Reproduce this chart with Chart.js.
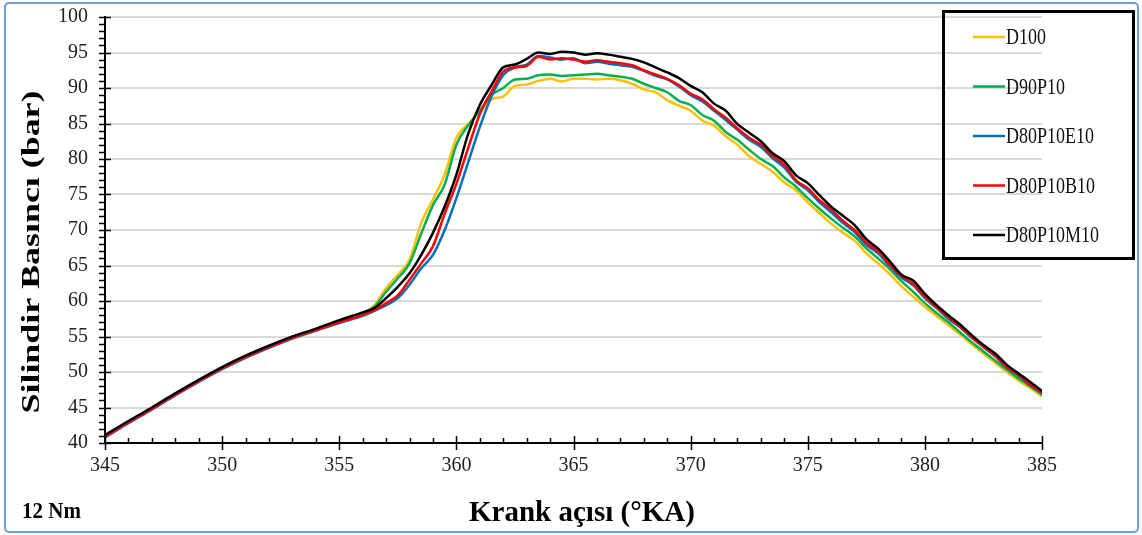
<!DOCTYPE html>
<html>
<head>
<meta charset="utf-8">
<script src="https://cdn.jsdelivr.net/npm/chart.js@4"></script>
<style>
  html, body { margin: 0; padding: 0; background: #fff; }
  canvas { display: block; }
</style>
</head>
<body>
<canvas id="chart" width="1142" height="535"></canvas>
<script>
// crank angle (°KA)
var angles = [345, 346, 347, 348, 349, 350, 351, 352, 353, 354, 355, 356,
  356.5, 357, 357.5, 358, 358.5, 359, 359.5, 360, 360.5, 361, 361.5, 362, 362.5, 363, 363.5, 364, 364.5, 365,
  365.5, 366, 366.5, 367, 367.5, 368, 368.5, 369, 369.5, 370, 370.5, 371, 371.5, 372, 372.5, 373, 373.5, 374,
  374.5, 375, 375.5, 376, 376.5, 377, 377.5, 378, 378.5, 379, 379.5, 380, 380.5, 381, 381.5, 382, 382.5, 383,
  383.5, 384, 384.5, 385];

var seriesNames = ['D100', 'D90P10', 'D80P10E10', 'D80P10B10', 'D80P10M10'];
var seriesColors = ['#FFC000', '#00B050', '#0070C0', '#FF0000', '#000000'];

// cylinder pressure (bar)
var d100 = [40.9, 42.9, 44.8, 46.8, 48.7, 50.5, 52.1, 53.5, 54.8, 55.9, 57.1, 58.2,
  59.4, 61.8, 63.7, 65.8, 71.0, 74.3, 77.8, 83.0, 84.9, 86.6, 88.4, 88.8, 90.3, 90.5, 91.0, 91.3, 90.9, 91.3,
  91.3, 91.2, 91.3, 91.1, 90.6, 89.8, 89.4, 88.3, 87.5, 86.8, 85.4, 84.7, 83.2, 82.0, 80.4, 79.3, 78.2, 76.7,
  75.6, 73.9, 72.4, 70.9, 69.6, 68.5, 66.7, 65.3, 63.8, 62.1, 60.6, 59.2, 57.9, 56.6, 55.3, 53.9, 52.6, 51.3,
  50.0, 48.8, 47.7, 46.6];
var d90p10 = [41.0, 43.0, 44.9, 46.9, 48.8, 50.6, 52.2, 53.6, 54.9, 56.0, 57.2, 58.3,
  59.2, 61.3, 63.2, 65.3, 69.5, 73.5, 76.4, 82.0, 84.7, 86.8, 89.0, 90.0, 91.2, 91.3, 91.8, 91.9, 91.7, 91.8,
  91.9, 92.0, 91.8, 91.6, 91.3, 90.6, 90.0, 89.4, 88.2, 87.6, 86.2, 85.4, 83.8, 82.7, 81.3, 80.0, 79.0, 77.4,
  76.1, 74.5, 73.0, 71.6, 70.3, 69.1, 67.4, 66.0, 64.5, 62.8, 61.3, 59.7, 58.3, 57.0, 55.6, 54.2, 52.9, 51.6,
  50.3, 49.1, 48.0, 46.8];
var d80p10e10 = [40.8, 42.8, 44.7, 46.7, 48.6, 50.4, 52.0, 53.4, 54.7, 55.8, 56.9, 57.9,
  58.6, 59.4, 60.4, 62.3, 64.6, 66.5, 70.0, 74.5, 79.5, 84.5, 88.8, 91.8, 92.9, 93.3, 94.5, 94.3, 94.0, 94.2,
  93.5, 93.7, 93.4, 93.2, 93.0, 92.4, 91.7, 91.2, 90.2, 89.0, 88.1, 86.8, 85.5, 84.1, 82.7, 81.7, 80.1, 78.8,
  76.8, 75.6, 73.9, 72.5, 71.0, 69.7, 67.9, 66.7, 64.9, 63.3, 62.2, 60.4, 59.0, 57.5, 56.3, 54.8, 53.5, 52.2,
  50.6, 49.5, 48.1, 47.0];
var d80p10b10 = [40.9, 42.9, 44.8, 46.8, 48.7, 50.5, 52.1, 53.5, 54.8, 55.9, 57.0, 58.0,
  58.7, 59.7, 60.8, 63.0, 65.3, 67.7, 72.3, 76.5, 81.5, 86.3, 89.5, 92.3, 92.9, 93.1, 94.4, 94.0, 94.2, 94.0,
  93.7, 93.9, 93.7, 93.5, 93.2, 92.5, 91.9, 91.3, 90.4, 89.2, 88.4, 87.0, 85.8, 84.3, 83.0, 82.0, 80.4, 79.2,
  77.0, 75.9, 74.2, 72.9, 71.3, 70.0, 68.2, 67.0, 65.1, 63.5, 62.4, 60.6, 59.1, 57.7, 56.4, 54.9, 53.6, 52.3,
  50.7, 49.6, 48.2, 47.1];
var d80p10m10 = [41.1, 43.1, 45.0, 47.0, 48.9, 50.7, 52.3, 53.7, 55.0, 56.1, 57.3, 58.4,
  59.0, 60.4, 62.0, 63.9, 66.5, 69.6, 73.3, 77.8, 83.5, 87.6, 90.4, 92.9, 93.3, 94.1, 95.0, 94.8, 95.1, 95.0,
  94.7, 94.9, 94.7, 94.4, 94.1, 93.6, 92.9, 92.2, 91.4, 90.3, 89.4, 87.8, 86.8, 84.9, 83.7, 82.5, 80.8, 79.7,
  77.7, 76.6, 74.9, 73.3, 72.0, 70.7, 68.7, 67.4, 65.6, 63.7, 62.9, 61.0, 59.4, 58.0, 56.7, 55.2, 53.8, 52.6,
  51.0, 49.8, 48.6, 47.3];

var seriesValues = [d100, d90p10, d80p10e10, d80p10b10, d80p10m10];

var serif = '"Liberation Serif", "Times New Roman", serif';

function stretchedText(ctx, text, x, y, sx, sy, rot) {
    ctx.save();
    ctx.translate(x, y);
    if (rot) ctx.rotate(rot);
    ctx.scale(sx, sy);
    ctx.fillText(text, 0, 0);
    ctx.restore();
}

var decorations = {
    id: 'decorations',
    beforeDraw: function (chart) {
        var ctx = chart.ctx;
        ctx.save();
        ctx.fillStyle = '#fff';
        ctx.fillRect(0, 0, chart.width, chart.height);
        ctx.restore();
    },
    afterDraw: function (chart) {
        var ctx = chart.ctx;
        var xs = chart.scales.x;
        var ys = chart.scales.y;
        var area = chart.chartArea;
        var v, p, major;

        ctx.save();
        ctx.strokeStyle = '#000';
        ctx.lineWidth = 1.5;
        ctx.beginPath();
        // x ticks: majors cross the axis, minors point up
        for (v = xs.min; v <= xs.max; v += 1) {
            p = Math.round(xs.getPixelForValue(v)) + 0.5;
            major = v % 5 === 0;
            ctx.moveTo(p, area.bottom - (major ? 7 : 5));
            ctx.lineTo(p, area.bottom + (major ? 7 : 0));
        }
        // y ticks: majors cross the axis, minors point left
        for (v = ys.min; v <= ys.max; v += 1) {
            p = Math.round(ys.getPixelForValue(v)) + 0.5;
            major = v % 5 === 0;
            ctx.moveTo(area.left - 6, p);
            ctx.lineTo(area.left + (major ? 6 : 0), p);
        }
        ctx.stroke();

        // axis titles
        ctx.fillStyle = '#000';
        ctx.textAlign = 'center';
        ctx.textBaseline = 'middle';
        ctx.font = 'bold 26px ' + serif;
        stretchedText(ctx, 'Silindir Basıncı (bar)', 32, 252, 1.38, 1, -Math.PI / 2);
        ctx.textBaseline = 'alphabetic';
        ctx.font = 'bold 29px ' + serif;
        stretchedText(ctx, 'Krank açısı (°KA)', 582, 521, 1, 1.05);
        ctx.textAlign = 'left';
        ctx.font = 'bold 21px ' + serif;
        stretchedText(ctx, '12 Nm', 22, 518, 1, 1.1);

        // legend box
        ctx.lineWidth = 3;
        ctx.strokeStyle = '#000';
        ctx.strokeRect(943.5, 11.5, 190, 247);
        ctx.font = '18px ' + serif;
        ctx.textBaseline = 'middle';
        chart.data.datasets.forEach(function (ds, i) {
            var ly = 37 + i * 49.5;
            ctx.strokeStyle = ds.borderColor;
            ctx.lineWidth = 2.5;
            ctx.beginPath();
            ctx.moveTo(973, ly);
            ctx.lineTo(1005, ly);
            ctx.stroke();
            ctx.fillStyle = '#111';
            stretchedText(ctx, ds.label, 1006, ly + 1, 1, 1.3);
        });

        // outer frame
        ctx.strokeStyle = '#6a9fd8';
        ctx.lineWidth = 2;
        ctx.beginPath();
        ctx.roundRect(5, 3, 1133, 529, 4);
        ctx.stroke();
        ctx.restore();
    }
};

new Chart(document.getElementById('chart'), {
    type: 'line',
    data: {
        datasets: seriesNames.map(function (name, i) {
            return {
                label: name,
                data: angles.map(function (a, k) { return {x: a, y: seriesValues[i][k]}; }),
                borderColor: seriesColors[i],
                backgroundColor: seriesColors[i],
                borderWidth: 2.5,
                pointRadius: 0,
                cubicInterpolationMode: 'monotone',
                order: seriesNames.length - i
            };
        })
    },
    options: {
        responsive: false,
        animation: false,
        devicePixelRatio: 1,
        layout: {
            padding: {left: 0, top: 17, right: 100, bottom: 0}
        },
        plugins: {
            legend: {display: false},
            tooltip: {enabled: false}
        },
        scales: {
            x: {
                type: 'linear',
                min: 345,
                max: 385,
                afterFit: function (scale) {
                    scale.height = 92;
                    scale.paddingLeft = 0;
                    scale.paddingRight = 0;
                },
                ticks: {
                    stepSize: 5,
                    padding: 3,
                    color: '#222',
                    font: {family: serif, size: 20}
                },
                grid: {display: false},
                border: {display: true, color: '#000', width: 2}
            },
            y: {
                min: 40,
                max: 100,
                afterFit: function (scale) {
                    scale.width = 105;
                    scale.paddingTop = 0;
                    scale.paddingBottom = 0;
                },
                ticks: {
                    stepSize: 5,
                    padding: 17,
                    color: '#222',
                    font: {family: serif, size: 20}
                },
                grid: {color: '#d9d9d9', lineWidth: 2, drawTicks: false},
                border: {display: true, color: '#000', width: 2}
            }
        }
    },
    plugins: [decorations]
});
</script>
</body>
</html>
